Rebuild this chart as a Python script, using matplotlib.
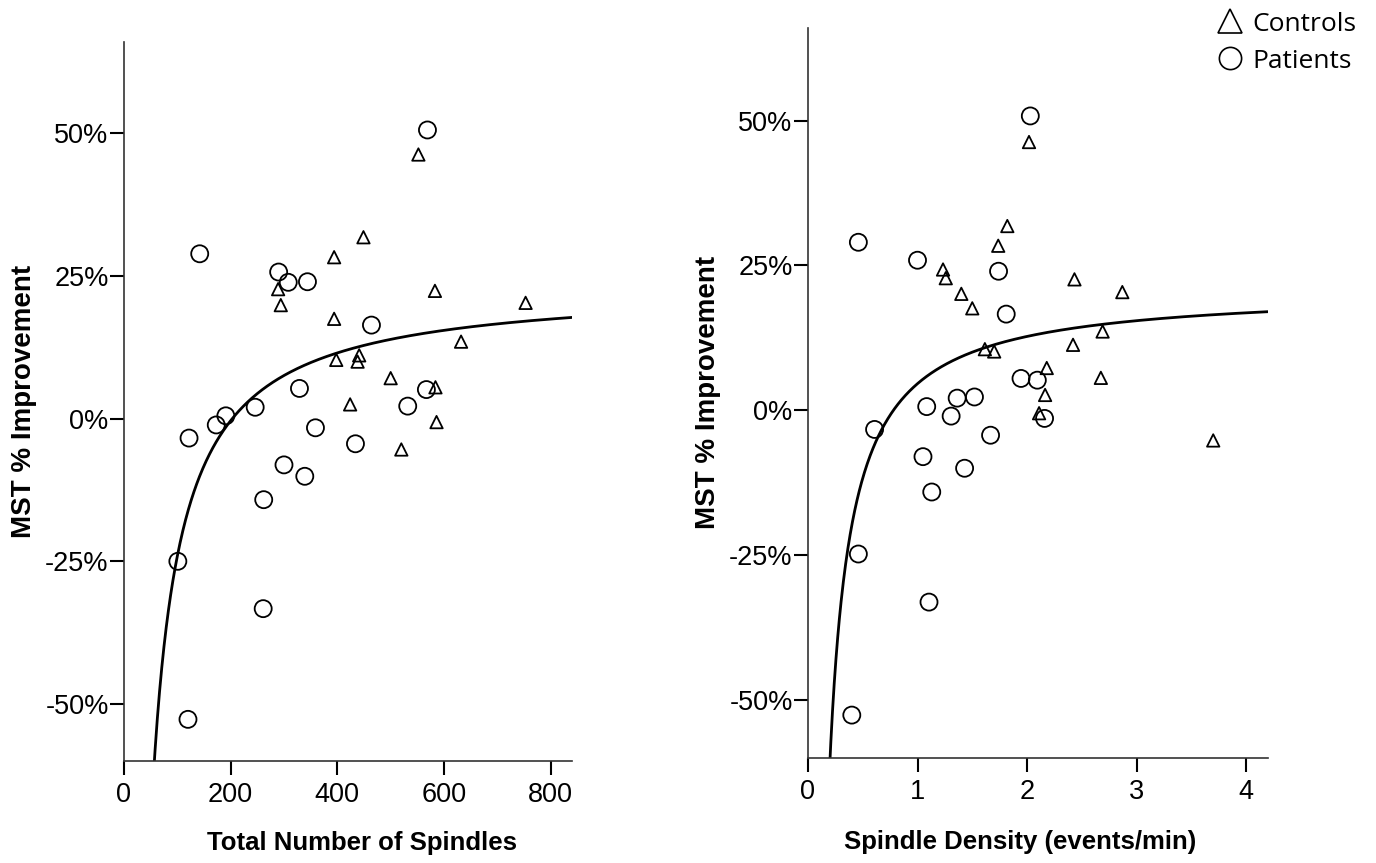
import numpy as np
import matplotlib
matplotlib.use('Agg')
import matplotlib.pyplot as plt
from matplotlib.lines import Line2D

# left panel: total number of spindles vs MST % improvement
pat_total = [569, 142, 290, 308, 344, 464, 329, 567, 532, 246, 191, 173, 122, 359,
             434, 300, 339, 262, 101, 261, 120]
pat_total_y = [50.6, 28.9, 25.7, 23.9, 24.0, 16.4, 5.3, 5.1, 2.2, 2.0, 0.5, -1.1, -3.4, -1.6,
               -4.4, -8.1, -10.1, -14.2, -25.0, -33.3, -52.7]
con_total = [552, 449, 394, 289, 583, 294, 753, 394, 632, 441, 398, 438, 500, 584,
             424, 586, 520]
con_total_y = [46.3, 31.8, 28.3, 22.7, 22.4, 19.9, 20.3, 17.5, 13.5, 11.1, 10.3, 10.0, 7.1, 5.5,
               2.5, -0.6, -5.4]

# right panel: spindle density vs MST % improvement
pat_dens = [2.03, 0.46, 1.00, 1.74, 1.81, 1.945, 2.094, 1.362, 1.52, 1.084, 1.307, 2.16,
            0.608, 1.667, 1.05, 1.43, 1.13, 0.46, 1.105, 0.40]
pat_dens_y = [50.8, 29.0, 25.9, 24.0, 16.6, 5.5, 5.2, 2.1, 2.3, 0.64, -1.0, -1.4,
              -3.3, -4.3, -8.0, -10.0, -14.1, -24.8, -33.1, -52.6]
con_dens = [2.018, 1.82, 1.737, 1.233, 1.258, 1.40, 2.433, 2.87, 1.50, 2.69, 2.42, 1.615,
            1.70, 2.18, 2.674, 2.165, 2.11, 3.70]
con_dens_y = [46.3, 31.8, 28.4, 24.3, 22.8, 20.1, 22.6, 20.4, 17.6, 13.6, 11.3, 10.55,
              10.15, 7.3, 5.6, 2.65, -0.5, -5.2]

y_ticks = [-50, -25, 0, 25, 50]
y_tick_labels = ['-50%', '-25%', '0%', '25%', '50%']

# inverse-model fit lines (y = a + b/x), coefficients
fit_total = (23.4, -4750.0)
fit_dens = (20.9, -16.3)

plt.rcParams['font.family'] = ['Liberation Sans', 'DejaVu Sans']

fig = plt.figure(figsize=(13.76, 8.63), dpi=100)
ax1 = fig.add_axes([0.0901, 0.1182, 0.3256, 0.833])
ax2 = fig.add_axes([0.5872, 0.1217, 0.3343, 0.846])


def draw_panel(ax, px, py, cx, cy, fit, xmax, xticks, xlabel, xlabel_pos):
    ax.scatter(cx, cy, marker='^', s=80, facecolors='none', edgecolors='black',
               linewidths=1.3, zorder=3)
    ax.scatter(px, py, marker='o', s=150, facecolors='none', edgecolors='black',
               linewidths=1.3, zorder=3)
    xs = np.linspace(xmax * 0.01, xmax, 800)
    ax.plot(xs, fit[0] + fit[1] / xs, color='black', lw=2, zorder=2)
    ax.set_xlim(0, xmax)
    ax.set_ylim(-60, 66)
    ax.set_xticks(xticks)
    ax.set_yticks(y_ticks)
    ax.set_yticklabels(y_tick_labels)
    for s in ['top', 'right']:
        ax.spines[s].set_visible(False)
    for s in ['left', 'bottom']:
        ax.spines[s].set_linewidth(1.2)
        ax.spines[s].set_color('#333333')
    ax.tick_params(axis='both', direction='out', length=10, width=1.5, labelsize=19.5)
    ax.tick_params(axis='y', pad=1)
    ax.tick_params(axis='x', pad=5)
    ax.set_xlabel(xlabel, fontsize=18.5, fontweight='bold')
    ax.xaxis.set_label_coords(xlabel_pos, -0.098)
    ax.set_ylabel('MST % Improvement', fontsize=20, fontweight='bold', labelpad=6)


draw_panel(ax1, pat_total, pat_total_y, con_total, con_total_y, fit_total,
           840, [0, 200, 400, 600, 800], 'Total Number of Spindles', 0.531)
draw_panel(ax2, pat_dens, pat_dens_y, con_dens, con_dens_y, fit_dens,
           4.2, [0, 1, 2, 3, 4], 'Spindle Density (events/min)', 0.461)

handles = [
    Line2D([], [], marker='^', ls='none', markersize=17, markerfacecolor='none',
           markeredgecolor='black', markeredgewidth=1.2, label='Controls'),
    Line2D([], [], marker='o', ls='none', markersize=16, markerfacecolor='none',
           markeredgecolor='black', markeredgewidth=1.2, label='Patients'),
]
fig.legend(handles=handles, loc='upper right', bbox_to_anchor=(1.003, 1.014),
           frameon=False, handletextpad=0.05, handlelength=1.6, labelspacing=0.45,
           prop={'family': ['Open Sans', 'DejaVu Sans'], 'size': 19})

fig.savefig('out.png', dpi=100, facecolor='white')
